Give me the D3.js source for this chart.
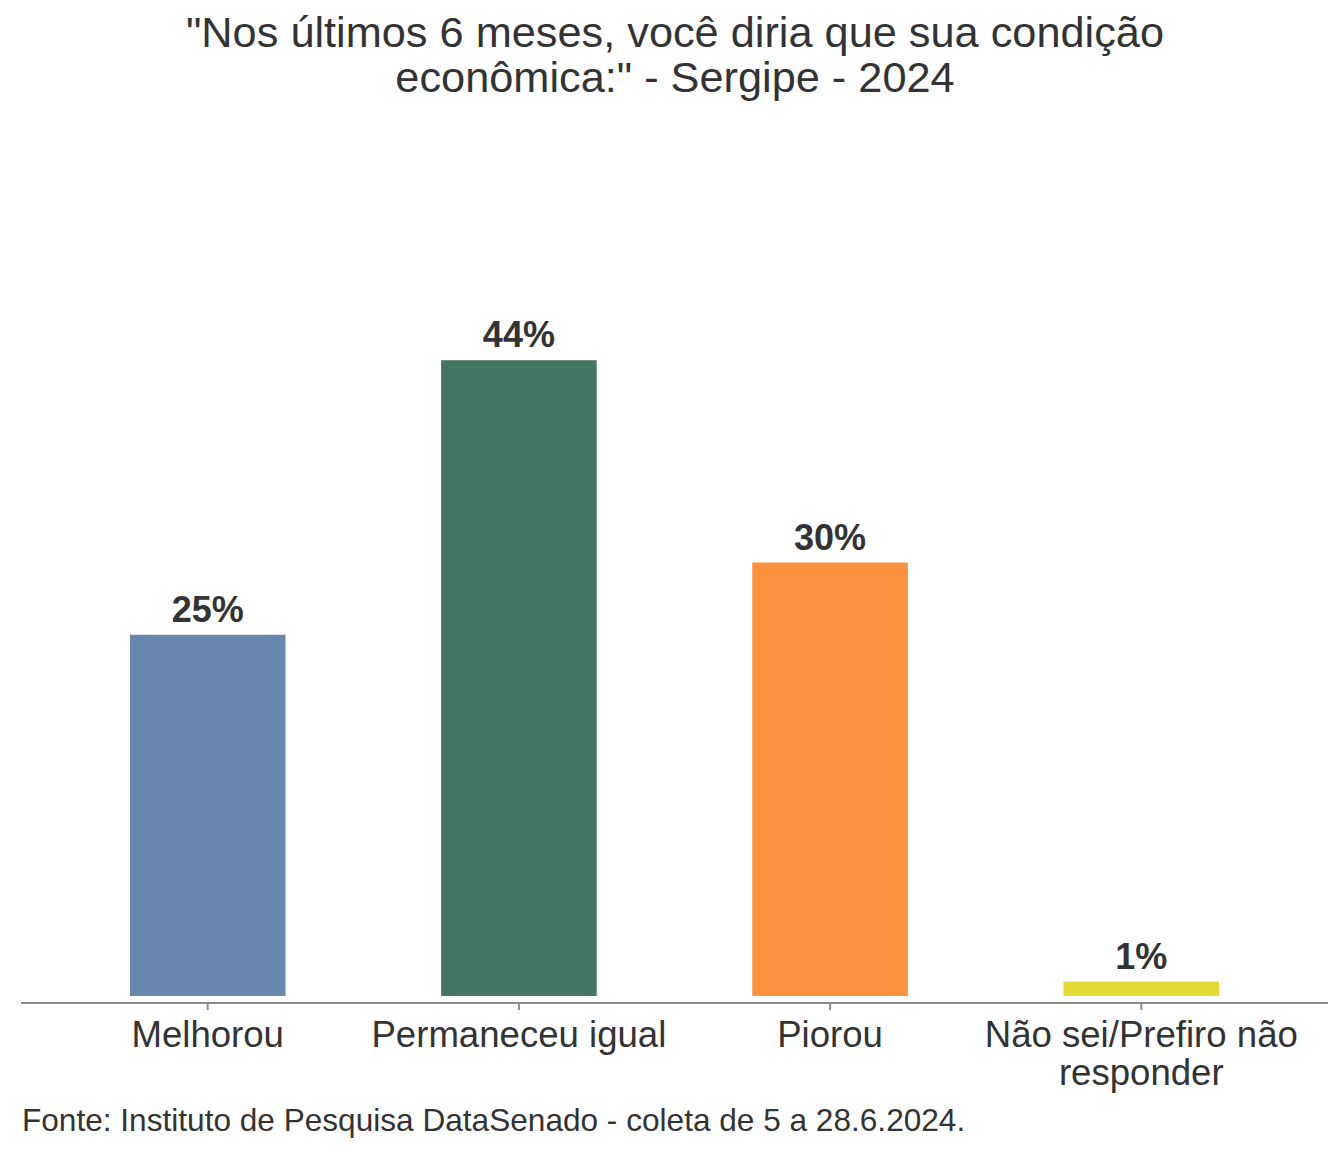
<!DOCTYPE html>
<html><head><meta charset="utf-8">
<script src="https://cdn.jsdelivr.net/npm/d3@7"></script>
<style>body{margin:0;background:#fff}svg{display:block}text{font-family:"Liberation Sans",Arial,sans-serif;fill:#333}</style>
</head><body><svg id="c" width="1344" height="1152"></svg>
<script>
const categories = ["Melhorou","Permaneceu igual","Piorou","Não sei/Prefiro não responder"];
const values = [25,44,30,1];
const colors = ["#6688AE","#447563","#FA913C","#E5D935"];
const titleLines = ["\"Nos últimos 6 meses, você diria que sua condição","econômica:\" - Sergipe - 2024"];
const footer = "Fonte: Instituto de Pesquisa DataSenado - coleta de 5 a 28.6.2024.";

const svg = d3.select("#c");
const x = d3.scalePoint().domain(categories).range([21,1328]).padding(0.6);
const step = x.step();
const bw = step*0.5;
const y = d3.scaleLinear().domain([0,50]).range([996,996-50*14.45]);

titleLines.forEach((t,i)=>{
  svg.append("text").attr("text-anchor","middle").attr("font-size",43.3)
    .attr("x",675).attr("y",47+i*45).text(t);
});

svg.selectAll("rect.bar").data(values).join("rect").attr("class","bar")
  .attr("x",(d,i)=>x(categories[i])-bw/2).attr("width",bw)
  .attr("y",d=>y(d)).attr("height",d=>y(0)-y(d))
  .attr("fill",(d,i)=>colors[i]);

svg.selectAll("text.lbl").data(values).join("text").attr("class","lbl")
  .attr("text-anchor","middle").attr("font-size",36).attr("font-weight","bold")
  .attr("x",(d,i)=>x(categories[i])).attr("y",d=>y(d)-13)
  .text(d=>d+"%");

const ax = svg.append("g").attr("transform","translate(0,1003)");
ax.append("line").attr("x1",21).attr("x2",1328).attr("stroke","#8c8c8c").attr("stroke-width",2);
categories.forEach(c=>{
  ax.append("line").attr("x1",x(c)).attr("x2",x(c)).attr("y1",0).attr("y2",7).attr("stroke","#8c8c8c").attr("stroke-width",2);
});
const wrap = {"Não sei/Prefiro não responder":["Não sei/Prefiro não","responder"]};
categories.forEach(c=>{
  const lines = wrap[c]||[c];
  const t = svg.append("text").attr("text-anchor","middle").attr("font-size",36.6);
  lines.forEach((l,j)=>{
    t.append("tspan").attr("x",x(c)).attr("y",1047+j*38).text(l);
  });
});

svg.append("text").attr("font-size",31.6).attr("x",22).attr("y",1131).text(footer);
</script></body></html>
